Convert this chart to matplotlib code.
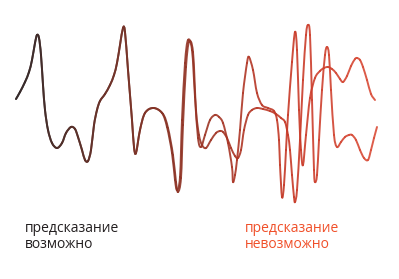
import numpy as np
import matplotlib
matplotlib.use("Agg")
import matplotlib.pyplot as plt
from matplotlib.path import Path
from matplotlib.patches import PathPatch
from matplotlib.colors import LinearSegmentedColormap

# Shared beginning of both trajectories (pixel-space readings)
common = [(16,99),(20,92),(25,82),(29,72),(32,60),(35,43),(37,35),(39,38),(41,55),(43,85),
          (45,110),(48,130),(52,143),(57,148),(62,143),(66,133),(71,127),(75,129),(78,137),
          (82,150),(85,160),(88,161),(91,150),(94,125),(97,110),(100,101),(105,94),(110,85),
          (114,75),(117,63),(120,45),(123,28),(125,32),(128,70),(132,120),(134,147),(136,153),
          (140,130),(145,113)]

tail_a = [(153,108),(162,113),(167,127),(172,153),(175,180),(177,190),(180,177),(182,120),
          (185,63),(188,40),(192,50),(195,97),(198,138),(201,147),(205,135),(210,120),(215,115),
          (219,117),(223,123),(228,143),(232,167),(233,182),(235,175),(237,160),(240,130),
          (243,93),(247,63),(249,57),(253,70),(257,93),(262,105),(268,108),(274,111),(277,120),
          (279,140),(280,165),(282,197),(284,185),(286,150),(288,115),(292,62),(295,32),(297,50),
          (299,110),(301,150),(303,165),(306,135),(310,98),(315,78),(320,71),(324,68),(328,67),
          (332,69),(336,73),(340,79),(343,82),(347,76),(351,66),(355,59),(357,58),(360,60),
          (363,67),(367,80),(371,94),(375,100)]

tail_b = [(154,108),(163,114),(168,128),(173,155),(176,182),(178,192),(181,178),(183,125),
          (186,67),(189,42),(193,52),(196,110),(199,135),(202,145),(206,148),(211,140),(216,133),
          (220,131),(223,132),(227,138),(231,148),(235,156),(238,158),(241,150),(244,130),
          (248,115),(252,110),(257,108),(263,109),(270,111),(276,114),(281,118),(285,122),
          (288,135),(290,150),(292,175),(294,197),(295,202),(297,190),(300,140),(303,80),
          (306,35),(308,25),(310,35),(312,100),(314,170),(315,182),(317,175),(319,140),(322,90),
          (325,55),(327,47),(329,55),(331,90),(334,135),(337,147),(341,142),(345,137),(349,135),
          (352,135),(356,140),(360,150),(364,158),(368,160),(371,150),(374,138),(377,127)]

label_left = "предсказание\nвозможно"
label_right = "предсказание\nневозможно"

fig = plt.figure(figsize=(3.99, 2.79), dpi=100)
ax = fig.add_axes([0, 0, 1, 1])
ax.set_xlim(0, 399)
ax.set_ylim(279, 0)
ax.axis("off")

cmap = LinearSegmentedColormap.from_list("traj", [
    (0.0, (0.20, 0.16, 0.16)),
    (0.28, (0.45, 0.20, 0.16)),
    (0.48, (0.58, 0.20, 0.14)),
    (0.75, (0.78, 0.22, 0.15)),
    (1.0, (0.86, 0.30, 0.22)),
])
norm = plt.Normalize(16, 380)

def draw_smooth(pts):
    P = np.array(pts, dtype=float)
    n = len(P)
    for i in range(n - 1):
        p0 = P[max(i - 1, 0)]
        p1 = P[i]
        p2 = P[i + 1]
        p3 = P[min(i + 2, n - 1)]
        c1 = p1 + (p2 - p0) / 6.0
        c2 = p2 - (p3 - p1) / 6.0
        path = Path([p1, c1, c2, p2], [Path.MOVETO, Path.CURVE4, Path.CURVE4, Path.CURVE4])
        col = cmap(norm((p1[0] + p2[0]) / 2))
        ax.add_patch(PathPatch(path, facecolor="none", edgecolor=col, lw=1.4,
                               capstyle="round", joinstyle="round", alpha=0.9))

draw_smooth(common + tail_a)
draw_smooth(common + tail_b)

ax.text(25, 248.5, label_left, fontsize=10, family="Open Sans", color="#231f20",
        va="baseline", ha="left", linespacing=1.15)
ax.text(245, 248.5, label_right, fontsize=10, family="Open Sans", color="#f0502a",
        va="baseline", ha="left", linespacing=1.15)

fig.savefig("out.png", dpi=100)
